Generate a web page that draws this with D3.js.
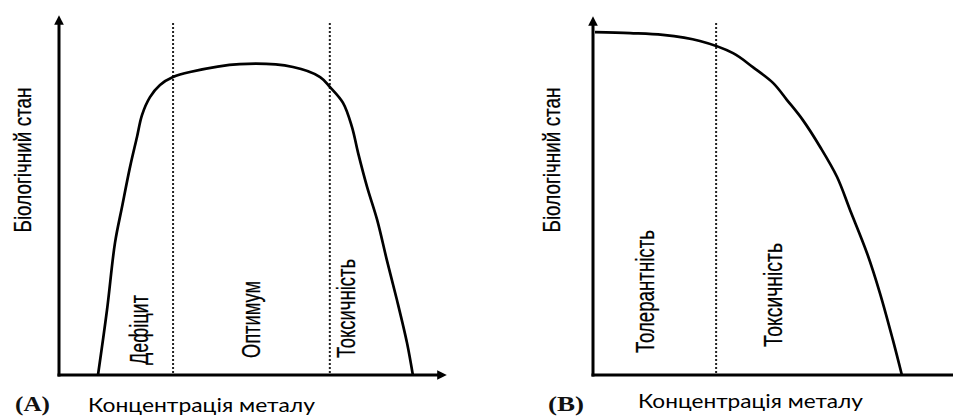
<!DOCTYPE html>
<html><head><meta charset="utf-8">
<script src="https://cdn.jsdelivr.net/npm/d3@7"></script>
<style>
html,body{margin:0;padding:0;background:#fff;}
svg{display:block;}
</style></head>
<body>
<svg id="c" width="953" height="416"></svg>
<script>
// ---- Data (abstract units 0..100) ----
const curveA_x = [10.05, 12.37, 14.43, 16.24, 18.30, 20.10, 21.39, 23.45, 26.03, 29.38, 33.76, 46.6, 60.3, 67.3, 69.85, 73.2, 75.5, 77.1, 79.4, 82.0, 84.5, 87.1, 89.7, 91.2];
const curveA_y = [0, 18.1, 36.8, 46.8, 57.9, 66.3, 72.4, 77.4, 80.8, 83.0, 84.4, 86.6, 85.8, 83.0, 80.2, 75.8, 69.1, 61.8, 52.4, 43.2, 32.0, 20.9, 8.9, 0];
const curveB_x = [0.56, 10.3, 19.4, 29.7, 38.9, 44.4, 50.0, 53.9, 58.3, 63.1, 67.8, 71.4, 76.1, 79.7, 83.3, 85.8];
const curveB_y = [95.8, 95.5, 95.0, 93.3, 89.9, 86.0, 81.6, 76.8, 71.2, 63.7, 55.3, 46.1, 34.1, 22.9, 9.8, 0];
const zonesA = [29.4, 69.8];
const zonesB = [34.2];
const labelsA = ["Дефіцит", "Оптимум", "Токсичність"];
const labelsB = ["Толерантність", "Токсичність"];
const yTitle = "Біологічний стан";
const xTitle = "Концентрація металу";
const panelTags = ["(A)", "(B)"];

const svg = d3.select("#c");
const sans = "'Liberation Sans','Arial',sans-serif";

svg.append("defs").append("marker")
  .attr("id","arr").attr("viewBox","0 0 10 10").attr("refX",5).attr("refY",5)
  .attr("markerWidth",3.2).attr("markerHeight",3.2).attr("orient","auto-start-reverse")
  .attr("markerUnits","strokeWidth")
  .append("path").attr("d","M0,0 L10,5 L0,10 z").attr("fill","#000");

function panel(cfg) {
  const x = d3.scaleLinear().domain([0,100]).range(cfg.xr);
  const y = d3.scaleLinear().domain([0,100]).range(cfg.yr);
  const g = svg.append("g");
  cfg.zones.forEach(z => {
    g.append("line").attr("x1", x(z)).attr("x2", x(z))
      .attr("y1", cfg.dotTop).attr("y2", y(0))
      .attr("stroke","#222").attr("stroke-width",2).attr("stroke-dasharray","2,2");
  });
  g.append("line").attr("x1", x(0)).attr("x2", x(0)).attr("y1", y(0)+1.5).attr("y2", cfg.yTip+5)
    .attr("stroke","#000").attr("stroke-width",3).attr("marker-end","url(#arr)");
  const xa = g.append("line").attr("x1", x(0)-1.5).attr("x2", cfg.xTip).attr("y1", y(0)).attr("y2", y(0))
    .attr("stroke","#000").attr("stroke-width",3);
  if (cfg.xArrow) xa.attr("x2", cfg.xTip-5).attr("marker-end","url(#arr)");
  const pts = cfg.cx.map((v,i)=>[v, cfg.cy[i]]);
  const line = d3.line().x(d=>x(d[0])).y(d=>y(d[1])).curve(d3.curveCatmullRom.alpha(0.5));
  g.append("path").attr("d", line(pts)).attr("fill","none").attr("stroke","#000")
    .attr("stroke-width",2.7).attr("stroke-linejoin","round");
  cfg.labels.forEach(l => {
    g.append("text").text(l.t)
      .attr("transform", `translate(${l.x},${l.y}) rotate(-90)`)
      .style("font-family", sans).style("font-size", "25px")
      .attr("dominant-baseline","central").attr("fill","#000")
      .attr("stroke","#000").attr("stroke-width",0.25)
      .attr("textLength", l.len).attr("lengthAdjust","spacingAndGlyphs");
  });
  g.append("text").text(yTitle)
    .attr("transform", `translate(${cfg.yt.x},${cfg.yt.y}) rotate(-90)`)
    .style("font-family", sans).style("font-size", "24px")
    .attr("dominant-baseline","central").attr("text-anchor","middle").attr("fill","#000")
    .attr("stroke","#000").attr("stroke-width",0.25)
    .attr("textLength", 145).attr("lengthAdjust","spacingAndGlyphs");
  g.append("text").text(xTitle).attr("x", cfg.xt.x).attr("y", cfg.xt.y)
    .style("font-family","Lato,'Open Sans',sans-serif").style("font-size","19px").attr("fill","#000")
    .attr("textLength", cfg.xt.len).attr("lengthAdjust","spacingAndGlyphs");
  g.append("text").text(cfg.tag).attr("x", cfg.tagPos.x).attr("y", cfg.tagPos.y)
    .style("font-family","'Liberation Serif','Times New Roman',serif").style("font-size","21px")
    .attr("font-weight","bold").attr("fill","#111")
    .attr("textLength", cfg.tagPos.len).attr("lengthAdjust","spacingAndGlyphs");
}

panel({
  xr:[59,447], yr:[375,16], yTip:15, xTip:447, xArrow:true, dotTop:23,
  cx: curveA_x, cy: curveA_y, zones: zonesA,
  labels: [
    {t: labelsA[0], x:139, y:365, len:70},
    {t: labelsA[1], x:251, y:358, len:77},
    {t: labelsA[2], x:346, y:358, len:99}
  ],
  yt:{x:22, y:160},
  xt:{x:88, y:412, len:227},
  tag: panelTags[0], tagPos:{x:15, y:411, len:35}
});

panel({
  xr:[593,953], yr:[375,17], yTip:16, xTip:960, xArrow:false, dotTop:23,
  cx: curveB_x, cy: curveB_y, zones: zonesB,
  labels: [
    {t: labelsB[0], x:645, y:353, len:123},
    {t: labelsB[1], x:773, y:347, len:104}
  ],
  yt:{x:551, y:160},
  xt:{x:638, y:408, len:225},
  tag: panelTags[1], tagPos:{x:548, y:411, len:36}
});
</script>
</body></html>
